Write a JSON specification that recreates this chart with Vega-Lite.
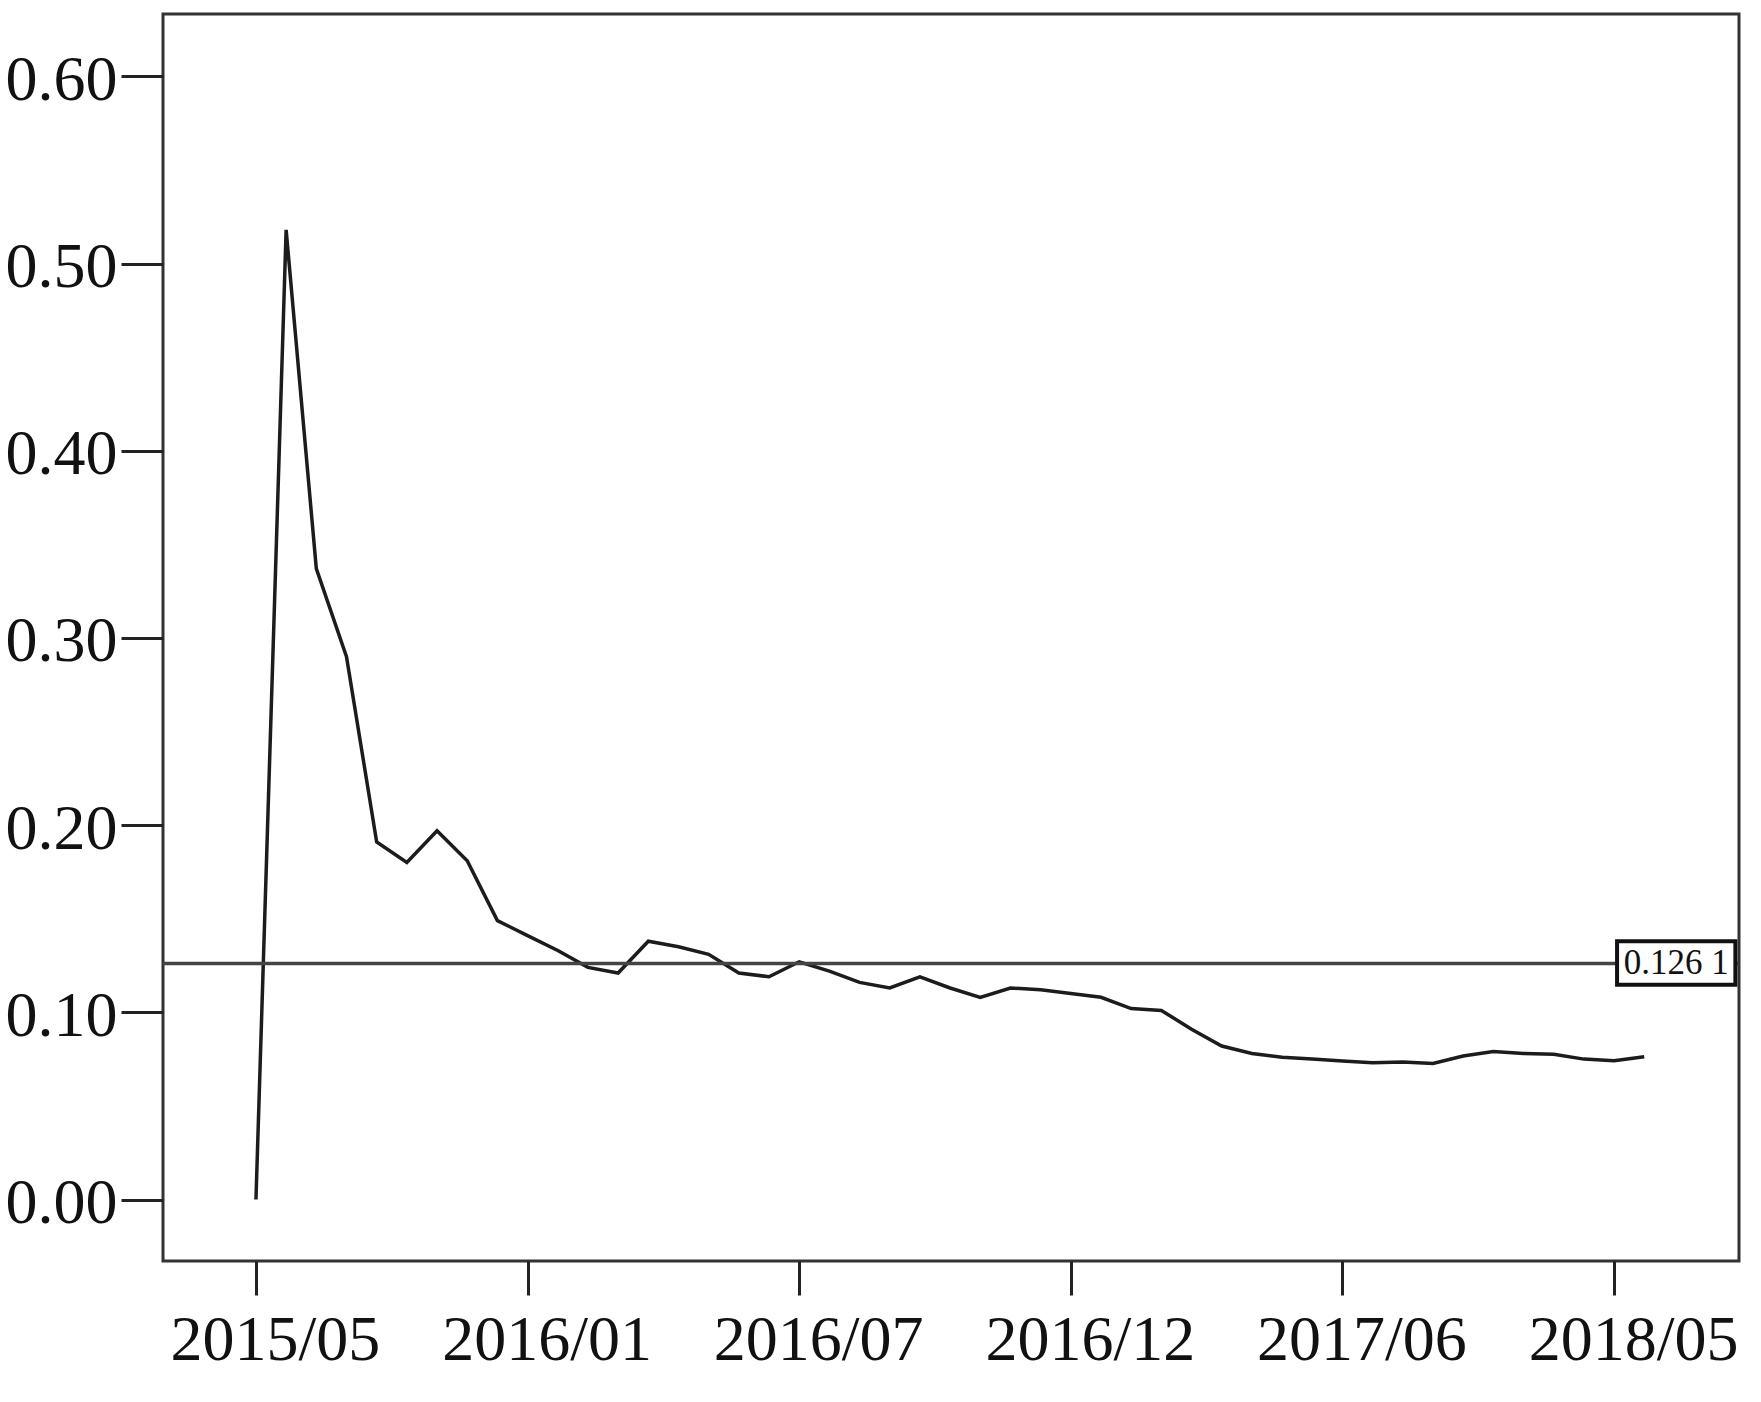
{
  "$schema": "https://vega.github.io/schema/vega-lite/v6.json",
  "autosize": "none",
  "width": 1576,
  "height": 1247,
  "padding": {"left": 163, "top": 14, "right": 22, "bottom": 141},
  "background": "white",
  "config": {
    "view": {"stroke": "#333333", "strokeWidth": 3},
    "font": "Liberation Serif"
  },
  "datasets": {
    "series": [
      {"t": 0, "v": 0.0},
      {"t": 1, "v": 0.518},
      {"t": 2, "v": 0.337},
      {"t": 3, "v": 0.290},
      {"t": 4, "v": 0.191},
      {"t": 5, "v": 0.180},
      {"t": 6, "v": 0.197},
      {"t": 7, "v": 0.181},
      {"t": 8, "v": 0.149},
      {"t": 9, "v": 0.141},
      {"t": 10, "v": 0.133},
      {"t": 11, "v": 0.124},
      {"t": 12, "v": 0.121},
      {"t": 13, "v": 0.138},
      {"t": 14, "v": 0.135},
      {"t": 15, "v": 0.131},
      {"t": 16, "v": 0.121},
      {"t": 17, "v": 0.119},
      {"t": 18, "v": 0.127},
      {"t": 19, "v": 0.122},
      {"t": 20, "v": 0.116},
      {"t": 21, "v": 0.113},
      {"t": 22, "v": 0.119},
      {"t": 23, "v": 0.113},
      {"t": 24, "v": 0.108},
      {"t": 25, "v": 0.113},
      {"t": 26, "v": 0.112},
      {"t": 27, "v": 0.110},
      {"t": 28, "v": 0.108},
      {"t": 29, "v": 0.102},
      {"t": 30, "v": 0.101},
      {"t": 31, "v": 0.091},
      {"t": 32, "v": 0.082},
      {"t": 33, "v": 0.078},
      {"t": 34, "v": 0.076},
      {"t": 35, "v": 0.075},
      {"t": 36, "v": 0.074},
      {"t": 37, "v": 0.073},
      {"t": 38, "v": 0.0735},
      {"t": 39, "v": 0.0727},
      {"t": 40, "v": 0.0767},
      {"t": 41, "v": 0.079},
      {"t": 42, "v": 0.078},
      {"t": 43, "v": 0.0776},
      {"t": 44, "v": 0.075},
      {"t": 45, "v": 0.0741},
      {"t": 46, "v": 0.0763}
    ],
    "refline": [{"mean": 0.1261, "label": "0.126 1"}]
  },
  "layer": [
    {
      "data": {"name": "series"},
      "mark": {"type": "line", "color": "#1c1c1c", "strokeWidth": 3.5, "clip": true},
      "encoding": {
        "x": {
          "field": "t", "type": "quantitative",
          "scale": {"domain": [-3.08, 49.14], "nice": false, "zero": false},
          "axis": {
            "title": null, "values": [0, 9, 18, 27, 36, 45],
            "labelExpr": "['2015/05','2016/01','2016/07','2016/12','2017/06','2018/05'][round(datum.value/9)]",
            "domain": false, "grid": false,
            "tickSize": 34, "tickWidth": 3, "tickColor": "#222222",
            "labelFont": "Liberation Serif", "labelFontSize": 64, "labelColor": "#111111",
            "labelPadding": 13, "labelOffset": 19, "labelFlush": false, "labelOverlap": false, "labelBound": false, "labelLimit": 0
          }
        },
        "y": {
          "field": "v", "type": "quantitative",
          "scale": {"domain": [-0.03285, 0.6333], "nice": false, "zero": false},
          "axis": {
            "title": null, "values": [0, 0.1, 0.2, 0.3, 0.4, 0.5, 0.6], "format": ".2f",
            "domain": false, "grid": false,
            "tickSize": 42, "tickWidth": 3, "tickColor": "#222222",
            "labelFont": "Liberation Serif", "labelFontSize": 64, "labelColor": "#111111",
            "labelPadding": 4, "labelOffset": 4, "labelOverlap": false, "labelLimit": 0
          }
        }
      }
    },
    {
      "data": {"name": "refline"},
      "mark": {"type": "rule", "color": "#444444", "strokeWidth": 3.5},
      "encoding": {"y": {"field": "mean", "type": "quantitative"}}
    },
    {
      "data": {"name": "refline"},
      "mark": {"type": "rect", "fill": "white", "stroke": "#111111", "strokeWidth": 4},
      "encoding": {
        "x": {"datum": 45.1},
        "x2": {"datum": 49.02},
        "y": {"datum": 0.1380},
        "y2": {"datum": 0.1147}
      }
    },
    {
      "data": {"name": "refline"},
      "mark": {"type": "text", "font": "Liberation Serif", "fontSize": 35, "color": "#111111", "align": "center", "baseline": "middle"},
      "encoding": {
        "x": {"datum": 47.06},
        "y": {"field": "mean", "type": "quantitative"},
        "text": {"field": "label"}
      }
    }
  ]
}
